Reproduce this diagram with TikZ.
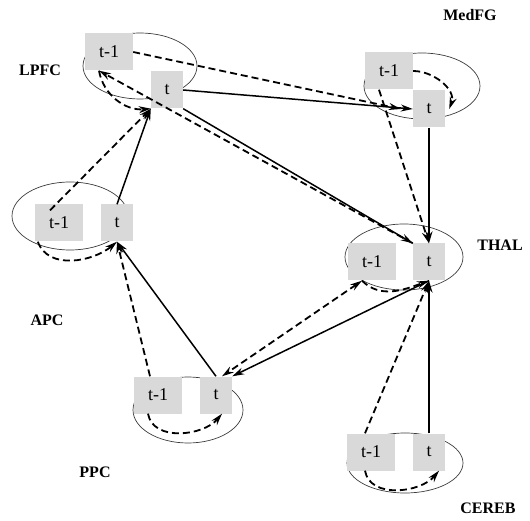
\documentclass[tikz,border=0pt]{standalone}
\usepackage{fontspec}
\setmainfont{Liberation Serif}
\usetikzlibrary{arrows.meta,positioning,calc}
\definecolor{boxgray}{RGB}{217,217,217}
\definecolor{rimgray}{RGB}{60,60,60}

\begin{document}
\begin{tikzpicture}[x=1pt,y=1pt,>={Stealth[length=12pt,width=7pt]},
    prevbox/.style={fill=boxgray, minimum width=48pt, minimum height=37pt, inner sep=0pt, font=\fontsize{18}{18}\selectfont},
    curbox/.style={prevbox, minimum width=32pt},
    area/.style={font=\bfseries\fontsize{16}{16}\selectfont},
    rim/.style={line width=0.7pt, rimgray},
    inst/.style={->, line width=1.5pt},
    lag/.style={->, line width=1.8pt, dash pattern=on 7pt off 4pt}]
    \useasboundingbox (0,0) rectangle (530,-521);

    % Region outlines
    \draw[rim] (140,-66) ellipse [x radius=57, y radius=33];
    \draw[rim] (422,-86) ellipse [x radius=58, y radius=33];
    \draw[rim] (70,-216) ellipse [x radius=58, y radius=34];
    \draw[rim] (404,-257) ellipse [x radius=59, y radius=33];
    \draw[rim] (188,-410) ellipse [x radius=55, y radius=33];
    \draw[rim] (405,-463) ellipse [x radius=58, y radius=30];

    % Time slices
    \node[prevbox] (lpfc1) at (109,-52) {t-1};
    \node[curbox] (lpfc) at (167,-90) {t};
    \node[prevbox] (medfg1) at (389,-71) {t-1};
    \node[curbox] (medfg) at (429,-109) {t};
    \node[prevbox] (apc1) at (59,-223) {t-1};
    \node[curbox] (apc) at (117,-223) {t};
    \node[prevbox] (thal1) at (372,-262) {t-1};
    \node[curbox] (thal) at (429,-262) {t};
    \node[prevbox] (ppc1) at (158,-395) {t-1};
    \node[curbox] (ppc) at (216,-395) {t};
    \node[prevbox] (cereb1) at (371,-452) {t-1};
    \node[curbox] (cereb) at (429,-452) {t};

    % Region names
    \node[area] (lpfcname) at (40,-70) {LPFC};
    \node[area] (medfgname) at (470,-15) {MedFG};
    \node[area] (apcname) at (47,-320) {APC};
    \node[area] (thalname) at (500,-245) {THAL};
    \node[area] (ppcname) at (95,-472) {PPC};
    \node[area] (cerebname) at (488,-508) {CEREB};

    % Self loops
    \draw[lag] ([xshift=-10pt]lpfc1.south) to[out=-80,in=185] (lpfc.south west);
    \draw[lag] (medfg1.east) to[out=0,in=70] ([xshift=4pt]medfg.east);
    \draw[lag] ([xshift=3pt]apc1.south west) to[out=-70,in=-140] (apc.south);
    \draw[lag] ([xshift=-10pt]thal1.south) to[out=-45,in=-160] (thal.south);
    \draw[lag] ([xshift=-10pt]ppc1.south) to[out=-80,in=-130] ([xshift=6pt]ppc.south);
    \draw[lag] ([xshift=-6pt]cereb1.south) to[out=-80,in=-130] ([xshift=10pt]cereb.south);

    % LPFC outputs
    \draw[inst] (lpfc.east) -- (medfg.west);
    \draw[lag] (lpfc1.east) -- ([xshift=-12pt]medfg.west);
    \draw[inst] (lpfc.south east) -- (thal.north west);
    \draw[lag] (thal.north west) -- ([xshift=-10pt]lpfc1.south);

    % MedFG to THAL
    \draw[inst] (medfg.south) -- (thal.north);
    \draw[lag] ([xshift=-10pt]medfg1.south) -- (thal.north);

    % CEREB to THAL
    \draw[inst] (cereb.north) -- (thal.south);
    \draw[lag] ([xshift=-6pt]cereb1.north) -- (thal.south);

    % THAL to PPC
    \draw[inst] (thal.south) -- (ppc.north east);
    \draw[lag, <->] ([xshift=-10pt]thal1.south) -- ([xshift=6pt]ppc.north);

    % PPC to APC
    \draw[inst] (ppc.north) -- (apc.south);
    \draw[lag] ([xshift=-8pt]ppc1.north) -- (apc.south);

    % APC to LPFC
    \draw[inst] (apc.north) -- (lpfc.south west);
    \draw[lag] ([xshift=-9pt,yshift=-6pt]apc1.north) -- (lpfc.south west);
\end{tikzpicture}
\end{document}
